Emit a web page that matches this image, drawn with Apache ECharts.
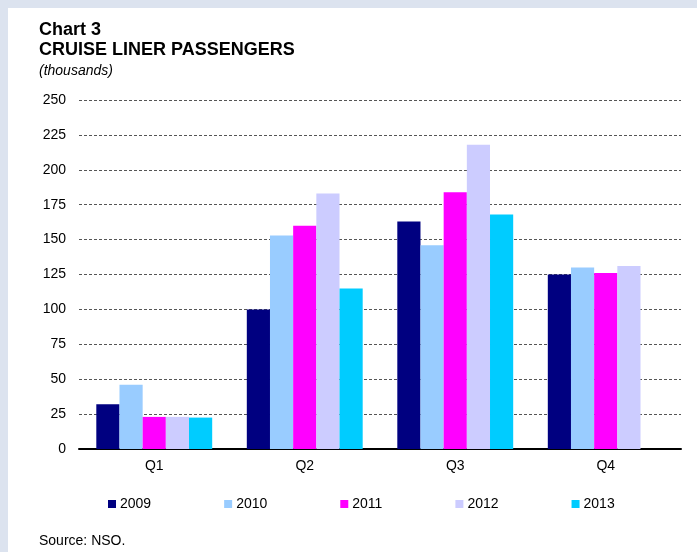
<!DOCTYPE html>
<html>
<head>
<meta charset="utf-8">
<script src="https://cdn.jsdelivr.net/npm/echarts@6/dist/echarts.min.js"></script>
<style>
  html, body { margin: 0; padding: 0; }
  body { width: 697px; height: 552px; background: #dce3ef; position: relative; overflow: hidden; }
  #panel { position: absolute; left: 8px; top: 8px; right: 0; bottom: 0; background: #ffffff; }
  #chart { position: absolute; left: 0; top: 0; width: 697px; height: 552px; }
</style>
</head>
<body>
<div id="panel"></div>
<div id="chart"></div>
<script>
// Quarterly cruise liner passengers, thousands
const categories = ['Q1', 'Q2', 'Q3', 'Q4'];
const years = ['2009', '2010', '2011', '2012', '2013'];
const y2009 = [32, 100, 163, 125];
const y2010 = [46, 153, 146, 130];
const y2011 = [23, 160, 184, 126];
const y2012 = [23, 183, 218, 131];
const y2013 = [22.5, 115, 168, null];
const yTicks = { min: 0, max: 250, interval: 25 };

const colors = ['#000080', '#99ccff', '#ff00ff', '#ccccff', '#00ccff'];
const seriesValues = [y2009, y2010, y2011, y2012, y2013];
const FONT = '"Liberation Sans", Arial, sans-serif';

const chart = echarts.init(document.getElementById('chart'), null, { renderer: 'canvas' });

chart.setOption({
  backgroundColor: 'transparent',
  animation: false,
  color: colors,
  textStyle: { fontFamily: FONT },
  graphic: [
    { type: 'text', left: 39, top: 21, style: { text: 'Chart 3', font: 'bold 18px ' + FONT, fill: '#000' } },
    { type: 'text', left: 39, top: 41, style: { text: 'CRUISE LINER PASSENGERS', font: 'bold 18px ' + FONT, fill: '#000' } },
    { type: 'text', left: 39, top: 64, style: { text: '(thousands)', font: 'italic 14px ' + FONT, fill: '#000' } },
    { type: 'text', left: 39, top: 534, style: { text: 'Source: NSO.', font: '14px ' + FONT, fill: '#000' } }
  ],
  legend: {
    data: years,
    left: 103,
    top: 492,
    icon: 'rect',
    itemWidth: 8,
    itemHeight: 8,
    itemGap: 73,
    textStyle: { fontSize: 14, color: '#000', fontFamily: FONT, padding: [0, 0, 0, -1] }
  },
  grid: { left: 79, right: 16, top: 100, bottom: 103, containLabel: false },
  xAxis: {
    type: 'category',
    data: categories,
    axisLine: { show: true, lineStyle: { color: '#000', width: 2 } },
    axisTick: { show: false },
    axisLabel: { fontSize: 14, color: '#000', margin: 10, fontFamily: FONT }
  },
  yAxis: {
    type: 'value',
    min: yTicks.min,
    max: yTicks.max,
    interval: yTicks.interval,
    axisLine: { show: false },
    axisTick: { show: false },
    axisLabel: { fontSize: 14, color: '#000', margin: 13, fontFamily: FONT },
    splitLine: { show: true, lineStyle: { color: '#555', width: 1, type: [3, 2] } }
  },
  series: years.map((name, i) => ({
    name: name,
    type: 'bar',
    data: seriesValues[i],
    barGap: '0%',
    barCategoryGap: '23%',
    itemStyle: { color: colors[i] }
  }))
});
</script>
</body>
</html>
